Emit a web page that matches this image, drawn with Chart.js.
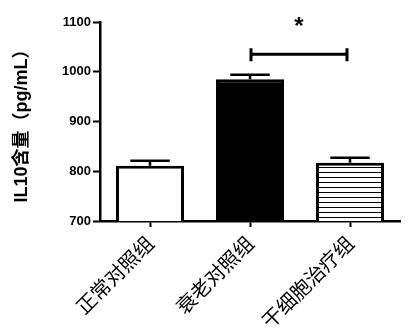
<!DOCTYPE html>
<html><head><meta charset="utf-8">
<script src="https://cdn.jsdelivr.net/npm/chart.js@4"></script>
<style>html,body{margin:0;padding:0;background:#fff}#w{width:405px;height:332px}</style>
</head><body><div id="w"><canvas id="c" width="405" height="332"></canvas></div>
<script>
const categories = ['正常对照组', '衰老对照组', '干细胞治疗组'];
const values = [811, 985, 817];
const errors = [10, 9, 10];
const yTicks = [700, 800, 900, 1000, 1100];
const sigPair = [1, 2];
const sigLevel = 1035;
const sigMark = '*';

function stripes() {
  const p = document.createElement('canvas');
  p.width = 8; p.height = 5;
  const g = p.getContext('2d');
  g.fillStyle = '#fff'; g.fillRect(0, 0, 8, 5);
  g.fillStyle = '#000'; g.fillRect(0, 2, 8, 1);
  return document.getElementById('c').getContext('2d').createPattern(p, 'repeat');
}

const annot = {
  id: 'annot',
  afterDatasetsDraw(chart) {
    const ctx = chart.ctx, x = chart.scales.x, y = chart.scales.y;
    const meta = chart.getDatasetMeta(0);
    ctx.save();
    ctx.strokeStyle = '#000'; ctx.lineWidth = 2.5;
    meta.data.forEach((bar, i) => {
      const top = y.getPixelForValue(values[i]);
      const cap = y.getPixelForValue(values[i] + errors[i]);
      const cx = bar.x, hw = bar.width * 0.29;
      ctx.beginPath();
      ctx.moveTo(cx, top); ctx.lineTo(cx, cap);
      ctx.moveTo(cx - hw, cap); ctx.lineTo(cx + hw, cap);
      ctx.stroke();
    });
    const x1 = x.getPixelForValue(sigPair[0]) + 1, x2 = x.getPixelForValue(sigPair[1]) - 3;
    const yl = y.getPixelForValue(sigLevel);
    ctx.lineWidth = 3;
    ctx.beginPath();
    ctx.moveTo(x1, yl); ctx.lineTo(x2, yl);
    ctx.moveTo(x1, yl - 6); ctx.lineTo(x1, yl + 7);
    ctx.moveTo(x2, yl - 6); ctx.lineTo(x2, yl + 7);
    ctx.stroke();
    ctx.fillStyle = '#000';
    ctx.font = 'bold 24px "Liberation Sans", Arial';
    ctx.textAlign = 'center'; ctx.textBaseline = 'middle';
    ctx.fillText(sigMark, (x1 + x2) / 2, y.getPixelForValue(1100) + 5);
    ctx.restore();
  }
};

new Chart(document.getElementById('c'), {
  type: 'bar',
  data: {
    labels: categories,
    datasets: [{
      data: values,
      backgroundColor: ['#ffffff', '#000000', stripes()],
      borderColor: '#000',
      borderWidth: 3,
      borderSkipped: false,
      barPercentage: 0.68,
      categoryPercentage: 1
    }]
  },
  options: {
    responsive: false,
    animation: false,
    devicePixelRatio: 1,
    layout: { padding: { left: 0, right: 5, top: 22, bottom: 0 } },
    plugins: { legend: { display: false }, tooltip: { enabled: false } },
    scales: {
      x: {
        grid: { display: true, offset: false, drawOnChartArea: false, drawTicks: true, tickLength: 6, tickColor: '#000', tickWidth: 2 },
        border: { display: true, color: '#000', width: 2.5 },
        ticks: { color: '#000', minRotation: 45, maxRotation: 45, padding: 4,
          font: { family: '"Noto Sans CJK SC"', size: 20 } },
        afterFit(s) { s.height = 111; }
      },
      y: {
        min: 700, max: 1100,
        afterBuildTicks(s) { s.ticks = yTicks.map(v => ({ value: v })); },
        grid: { display: true, drawOnChartArea: false, drawTicks: true, tickLength: 7, tickColor: '#000', tickWidth: 2 },
        border: { display: true, color: '#000', width: 2.5 },
        ticks: { color: '#000', padding: 2, callback: v => String(v),
          font: { family: '"Liberation Sans", Arial', size: 13, weight: 'bold' } },
        title: { display: true, text: 'IL10含量（pg/mL）', color: '#000', padding: { top: 11, bottom: 0 },
          font: { family: '"Liberation Sans", "Noto Sans CJK SC"', size: 18, weight: 'bold' } },
        afterFit(s) { s.width = 100; }
      }
    }
  },
  plugins: [annot]
});
</script></body></html>
